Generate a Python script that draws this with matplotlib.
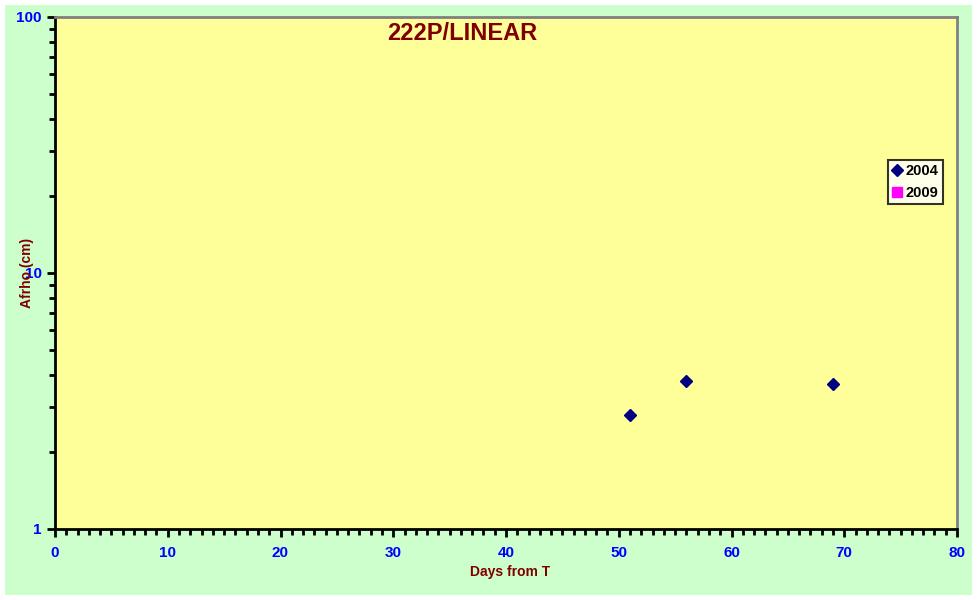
import matplotlib
matplotlib.use("Agg")
import matplotlib.pyplot as plt
from matplotlib.patches import Rectangle
from matplotlib.ticker import MultipleLocator, LogLocator, NullFormatter, FixedLocator

days_2004 = [51, 56, 69]
afrho_2004 = [2.79, 3.79, 3.69]
days_2009 = []
afrho_2009 = []

x_ticks = [0, 10, 20, 30, 40, 50, 60, 70, 80]
y_ticks = [1, 10, 100]
y_tick_labels = ["1", "10", "100"]

W, H = 977, 600
fig = plt.figure(figsize=(W / 100, H / 100), dpi=100, facecolor="white")

# light green chart area with white border
fig.patches.append(Rectangle((5 / W, 5 / H), 967 / W, 590 / H, transform=fig.transFigure,
                             facecolor="#CCFFCC", edgecolor="none", zorder=-1))

ax = fig.add_axes([55 / W, 1 - 529 / H, 902 / W, 512 / H])
ax.set_facecolor("#FFFF99")

ax.plot(days_2004, afrho_2004, linestyle="none", marker="D", markersize=6,
        color="#000080", label="2004")
ax.plot(days_2009, afrho_2009, linestyle="none", marker="s", markersize=7,
        color="#FF00FF", label="2009")

ax.set_xlim(0, 80)
ax.set_yscale("log")
ax.set_ylim(1, 100)

ax.xaxis.set_major_locator(FixedLocator(x_ticks))
ax.xaxis.set_minor_locator(MultipleLocator(1))
ax.yaxis.set_major_locator(FixedLocator(y_ticks))
ax.set_yticklabels(y_tick_labels)
ax.yaxis.set_minor_locator(LogLocator(base=10, subs=range(2, 10)))
ax.yaxis.set_minor_formatter(NullFormatter())

ax.tick_params(axis="both", which="major", direction="out", length=6, width=2,
               colors="black", labelcolor="#0000FF", labelsize=11)
ax.tick_params(axis="x", which="major", pad=6)
ax.tick_params(axis="both", which="minor", direction="out", length=4, width=2,
               colors="black")
for lab in ax.get_xticklabels() + ax.get_yticklabels():
    lab.set_fontweight("bold")
    lab.set_family("Liberation Sans")

for side in ["left", "bottom"]:
    ax.spines[side].set_color("black")
    ax.spines[side].set_linewidth(2)
for side in ["top", "right"]:
    ax.spines[side].set_color("#808080")
    ax.spines[side].set_linewidth(2)

ax.set_xlabel("Days from T", fontsize=10, fontweight="bold", color="#800000",
              family="Liberation Sans")
ax.set_ylabel("Afrho (cm)", fontsize=10, fontweight="bold", color="#800000",
              family="Liberation Sans")
ax.xaxis.set_label_coords((510 - 55) / 902, (529 - 572) / 512)
ax.yaxis.set_label_coords((27 - 55) / 902, 0.5)
ax.xaxis.label.set_va("center")
ax.yaxis.label.set_va("center")

ax.text((462 - 55) / 902, (529 - 34) / 512, "222P/LINEAR", transform=ax.transAxes,
        ha="center", va="center", fontsize=17, fontweight="bold", color="#800000",
        family="Liberation Sans")

leg = ax.legend(loc="upper left", bbox_to_anchor=(833 / 902, (529 - 160) / 512),
                frameon=True, fancybox=False, handlelength=0.6, handletextpad=0.3,
                borderpad=0.3, labelspacing=0.5, borderaxespad=0,
                prop={"family": "Liberation Sans", "weight": "bold", "size": 10.5})
leg.get_frame().set_edgecolor("black")
leg.get_frame().set_linewidth(1.5)

fig.savefig("out.png", dpi=100, facecolor="white")
